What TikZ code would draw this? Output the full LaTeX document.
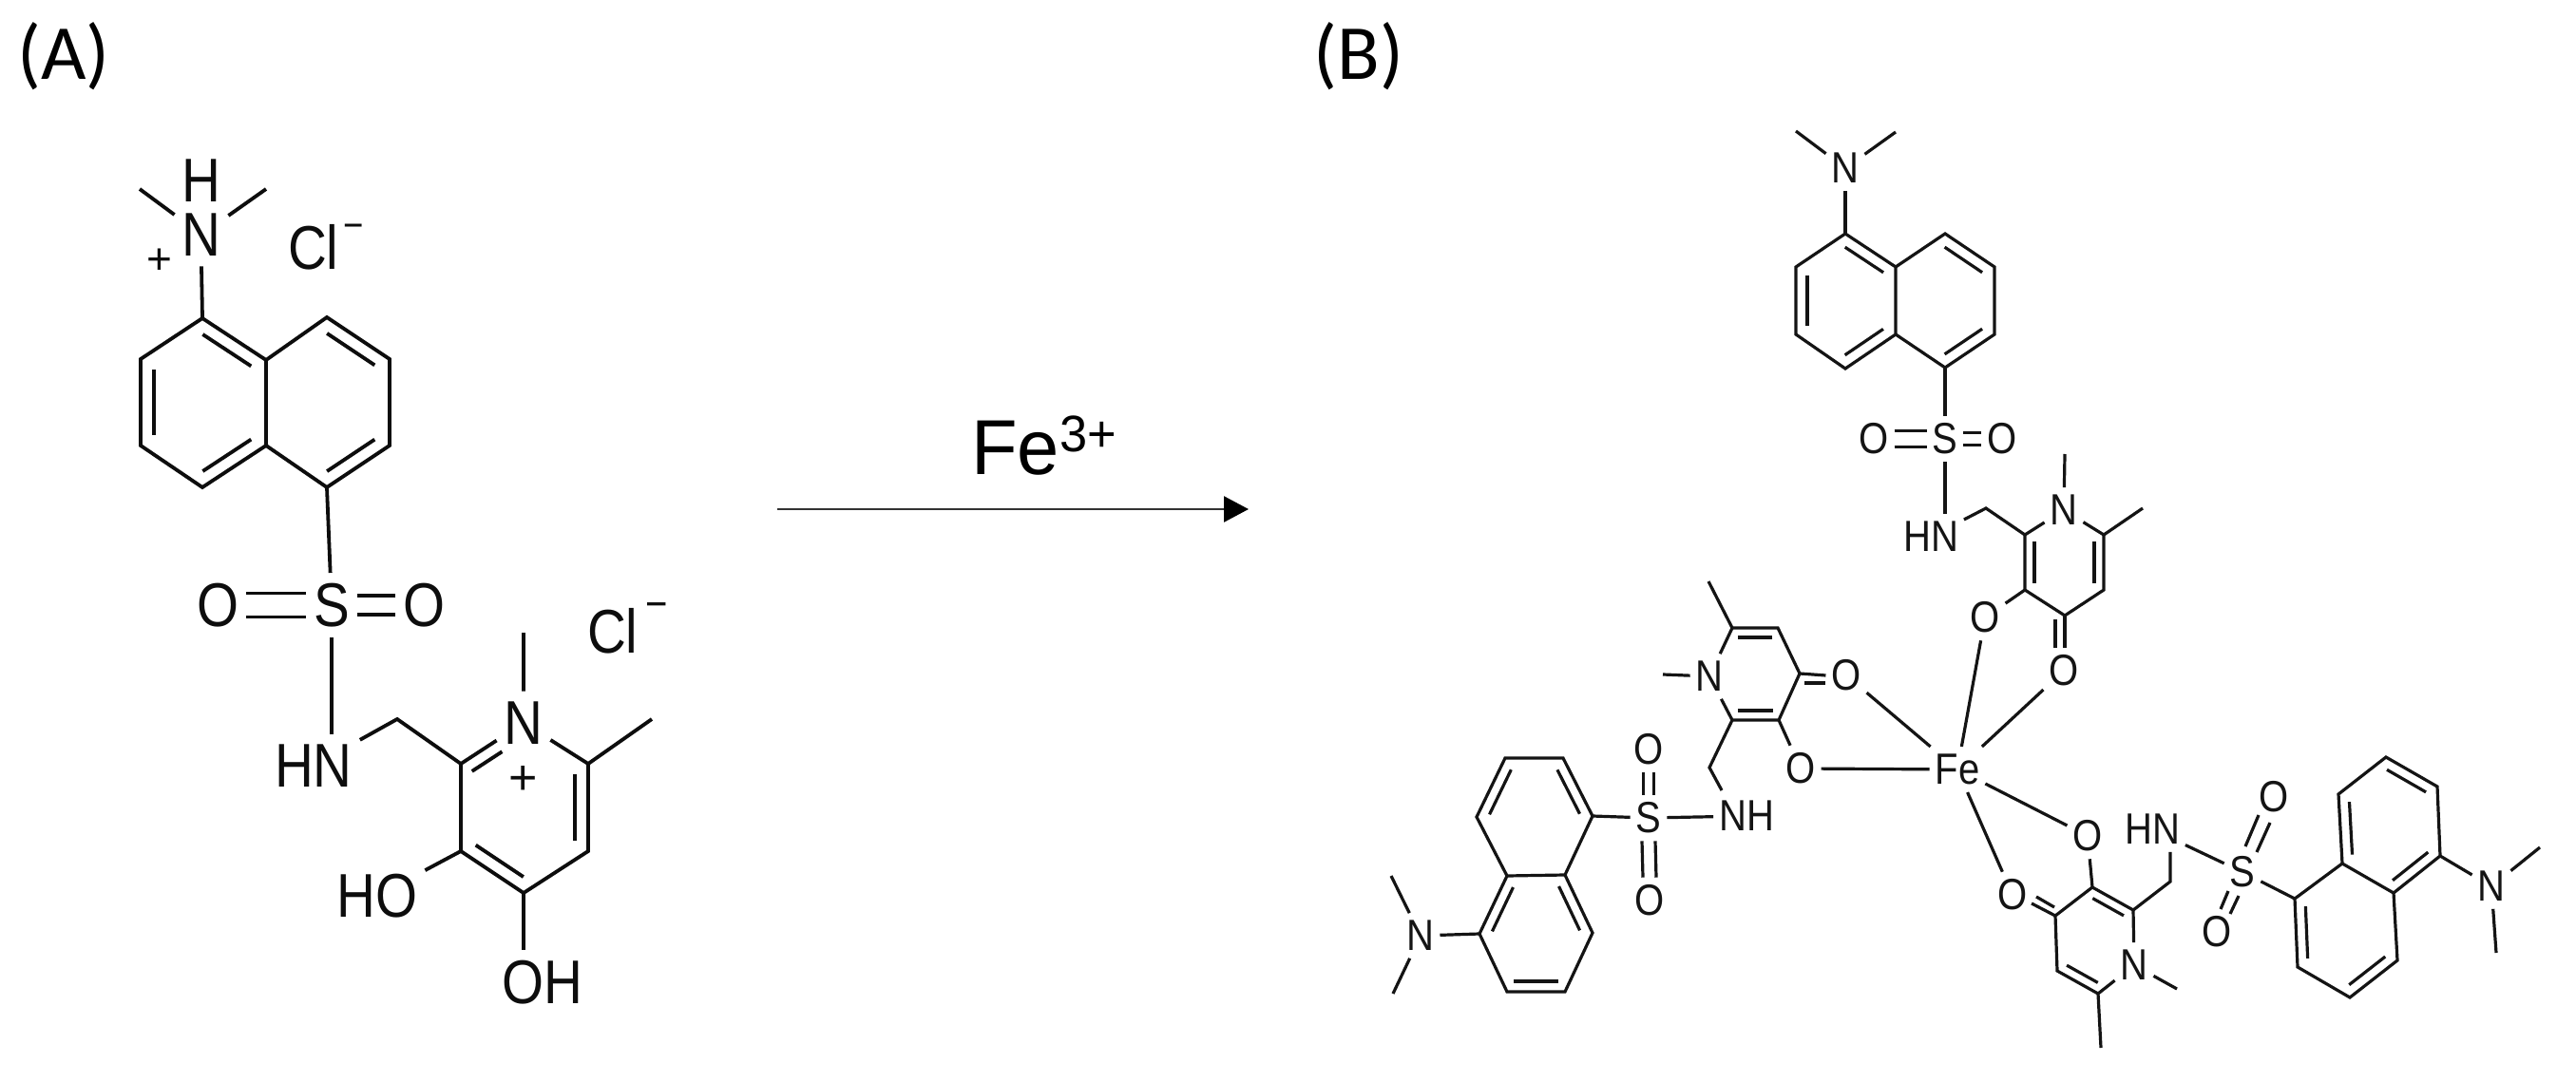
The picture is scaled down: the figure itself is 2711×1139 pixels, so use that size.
\documentclass[tikz,border=0pt]{standalone}
\usepackage{graphicx}
\usepackage{fontspec}
\setmainfont{Liberation Sans}
\newfontfamily\labelfont{Carlito}
\usetikzlibrary{calc,arrows.meta}
\newcommand\tL[1]{\scalebox{.87}[1]{\fontsize{65}{70}\selectfont #1}}
\newcommand\tR[1]{\scalebox{.87}[1]{\fontsize{46}{50}\selectfont #1}}
\newcommand\dblf[5]{\draw ($(#1)!#3!(#2)!#5pt!90:(#2)$) -- ($(#2)!#4!(#1)!#5pt!-90:(#1)$);}
\newcommand\dbl[3]{\dblf{#1}{#2}{.12}{.12}{#3}}
\tikzset{
  atomL/.style={inner xsep=8pt,inner ysep=11pt,outer sep=0pt},
  atomR/.style={inner xsep=6pt,inner ysep=8pt,outer sep=0pt},
  bondL/.style={line width=3.8pt,black!95},
  bondR/.style={line width=3.2pt,black!92},
  plain/.style={inner sep=0pt,outer sep=0pt},
}
\begin{document}
\begin{tikzpicture}[x=1pt,y=-1pt]
\useasboundingbox (0,0) rectangle (2711,1139);
\fill[white] (0,0) rectangle (2711,1139);

% panel labels
\node[plain,anchor=base] (labA) at (67,84) {\labelfont\fontsize{82}{90}\selectfont (A)};
\node[plain,anchor=base] (labB) at (1430,84) {\labelfont\fontsize{82}{90}\selectfont (B)};

% reaction arrow
\coordinate (arS) at (818,536);
\coordinate (arE) at (1314,536);
\draw[line width=2.6pt,black!80,-{Triangle[length=26pt,width=27pt,fill=black,color=black]}] (arS) -- (arE);
\node[plain,anchor=base west] (fe3) at (1022,499) {\scalebox{.97}[1]{\fontsize{82}{90}\selectfont Fe\kern1pt\raisebox{24pt}{\fontsize{54}{60}\selectfont 3+}}};

%% ---------- molecule A ----------
\begin{scope}[bondL]
\coordinate (a1) at (213,335); \coordinate (a2) at (280,379); \coordinate (a3) at (280,469);
\coordinate (a4) at (213,513); \coordinate (a5) at (148,469); \coordinate (a6) at (148,378);
\coordinate (b1) at (344,334); \coordinate (b2) at (410,378); \coordinate (b3) at (410,469);
\coordinate (b4) at (344,513);
\coordinate (am1) at (147,199); \coordinate (am2) at (280,199);
\node[atomL,inner ysep=3pt] (aN) at (212,247) {\tL{N}};
\node[plain] (aH) at (212,190) {\tL{H}};
\node[plain] (aPl) at (168,275) {\fontsize{46}{50}\selectfont +};
\node[plain,anchor=base west] (aCl1) at (303,284) {\tL{Cl}\kern5pt\raisebox{32pt}{\scalebox{.87}[1]{\fontsize{42}{46}\selectfont −}}};
\draw (am1) -- (aN) -- (am2);
\draw ([yshift=-8pt]aN.south) -- (a1);
\draw (a1) -- (a2) -- (a3) -- (a4) -- (a5) -- (a6) -- cycle;
\draw (a2) -- (b1) -- (b2) -- (b3) -- (b4) -- (a3);
\dbl{a2}{a1}{14} \dbl{a6}{a5}{14} \dbl{a4}{a3}{14} \dbl{b2}{b1}{14} \dbl{b4}{b3}{14}
\node[atomL] (aS) at (349,637) {\tL{S}};
\node[atomL] (aOl) at (229,637) {\tL{O}};
\node[atomL] (aOr) at (446,637) {\tL{O}};
\draw (b4) -- (aS);
\draw ([yshift=12.5pt]aOl.east) -- ([yshift=12.5pt]aS.west);
\draw ([yshift=-12.5pt]aOl.east) -- ([yshift=-12.5pt]aS.west);
\draw ([yshift=10pt]aS.east) -- ([yshift=10pt]aOr.west);
\draw ([yshift=-10pt]aS.east) -- ([yshift=-10pt]aOr.west);
\node[atomL] (aHN) at (330,806) {\tL{HN}};
\draw (aS.south) -- (aS.south |- aHN.north);
\coordinate (aCH) at (418,757); \coordinate (c2) at (485,804); \coordinate (c3) at (485,896);
\coordinate (c4) at (551,940); \coordinate (c5) at (619,896); \coordinate (c6) at (619,804);
\coordinate (cm1) at (551,666); \coordinate (cm2) at (686,757);
\node[atomL] (cN) at (551,761) {\tL{N}};
\node[plain] (cPl) at (551,821) {\fontsize{52}{56}\selectfont +};
\node[atomL] (cHO) at (397,943) {\tL{HO}};
\node[atomL] (cOH) at (571,1034) {\tL{OH}};
\node[plain,anchor=base west] (aCl2) at (618,687) {\tL{Cl}\kern8pt\raisebox{36pt}{\scalebox{.87}[1]{\fontsize{46}{50}\selectfont −}}};
\draw (aHN) -- (aCH) -- (c2) -- (cN);
\draw (cm1) -- (cN) -- (c6) -- (cm2);
\draw (c6) -- (c5) -- (c4) -- (c3) -- (c2);
\draw (c3) -- (cHO);
\draw (c4) -- (c4 |- cOH.north);
\dblf{cN}{c2}{.45}{.07}{13} \dbl{c5}{c6}{14} \dbl{c3}{c4}{14}
\end{scope}

%% ---------- molecule B ----------
\begin{scope}[bondR]
\node[atomR] (Fe) at (2060,810) {\tR{Fe}};

% top ligand
\coordinate (t1) at (1942,246); \coordinate (t2) at (1995,281); \coordinate (t3) at (1995,352);
\coordinate (t4) at (1942,388); \coordinate (t5) at (1890,352); \coordinate (t6) at (1890,281);
\coordinate (u1) at (2047,246); \coordinate (u2) at (2099,281); \coordinate (u3) at (2099,352);
\coordinate (u4) at (2047,387);
\coordinate (tm1) at (1890,138); \coordinate (tm2) at (1995,139);
\node[atomR] (tN) at (1942,177) {\tR{N}};
\draw (tm1) -- (tN) -- (tm2);
\draw (tN) -- (t1);
\draw (t1) -- (t2) -- (t3) -- (t4) -- (t5) -- (t6) -- cycle;
\draw (t2) -- (u1) -- (u2) -- (u3) -- (u4) -- (t3);
\dbl{t2}{t1}{12} \dbl{t6}{t5}{12} \dbl{t4}{t3}{12} \dbl{u2}{u1}{12} \dbl{u4}{u3}{12}
\node[atomR] (tS) at (2047,462) {\tR{S}};
\node[atomR] (tOl) at (1972,462) {\tR{O}};
\node[atomR] (tOr) at (2107,462) {\tR{O}};
\draw (u4) -- (tS);
\draw ([yshift=8.5pt]tOl.east) -- ([yshift=8.5pt]tS.west);
\draw ([yshift=-8.5pt]tOl.east) -- ([yshift=-8.5pt]tS.west);
\draw ([yshift=6.5pt]tS.east) -- ([yshift=6.5pt]tOr.west);
\draw ([yshift=-6.5pt]tS.east) -- ([yshift=-6.5pt]tOr.west);
\node[atomR] (tHN) at (2032,565) {\tR{HN}};
\draw (tS.south) -- (tS.south |- tHN.north);
\coordinate (tCH) at (2090,535); \coordinate (p2) at (2131,563); \coordinate (p3) at (2131,621);
\coordinate (p4) at (2173,648); \coordinate (p5) at (2214,621); \coordinate (p6) at (2214,563);
\coordinate (pm1) at (2173,478); \coordinate (pm2) at (2255,535);
\node[atomR] (pN) at (2172,537) {\tR{N}};
\node[atomR] (pO1) at (2089,650) {\tR{O}};
\node[atomR] (pO2) at (2172,706) {\tR{O}};
\draw (tHN) -- (tCH) -- (p2) -- (pN);
\draw (pm1) -- (pN) -- (p6) -- (pm2);
\draw (p6) -- (p5) -- (p4) -- (p3) -- (p2);
\dbl{p2}{p3}{10} \dbl{p5}{p6}{10}
\draw (p3) -- (pO1);
\draw (p4) -- (p4 |- pO2.north);
\draw ([xshift=-10pt,yshift=-4pt]p4) -- ([xshift=-9pt]pO2.north);
\draw (pO1) -- (Fe);
\draw (pO2) -- (Fe);

% left ligand
\coordinate (q6) at (1823,661); \coordinate (q5) at (1871,661); \coordinate (q4) at (1894,709);
\coordinate (q3) at (1872,758); \coordinate (q2) at (1823,758); \coordinate (qCH) at (1799,808);
\coordinate (qm1) at (1798,612); \coordinate (qm2) at (1750,710);
\node[atomR] (qN) at (1799,712) {\tR{N}};
\node[atomR] (qO1) at (1895,809) {\tR{O}};
\node[atomR] (qO2) at (1943,711) {\tR{O}};
\node[atomR] (qNH) at (1838,859) {\tR{NH}};
\draw (qm2) -- (qN) -- (q6) -- (qm1);
\draw (q6) -- (q5) -- (q4) -- (q3) -- (q2) -- (qN);
\dbl{q5}{q6}{10} \dbl{q2}{q3}{10}
\draw (q3) -- (qO1);
\draw (q4) -- (qO2.west);
\draw ([shift={(5,10)}]q4) -- ([yshift=-8pt]qO2.west);
\draw (qO1) -- (Fe);
\draw (qO2) -- (Fe);
\draw (q2) -- (qCH) -- ([shift={(-26,-27)}]qNH.center);
\node[atomR] (qS) at (1735,861) {\tR{S}};
\node[atomR] (qOu) at (1735,789) {\tR{O}};
\node[atomR] (qOd) at (1736,948) {\tR{O}};
\draw (qS) -- (qNH);
\draw ([xshift=-5.5pt]qOu.south) -- ([xshift=-5.5pt]qS.north);
\draw ([xshift=5.5pt]qOu.south) -- ([xshift=5.5pt]qS.north);
\draw ([xshift=-7pt]qS.south) -- ([xshift=-7pt]qOd.north);
\draw ([xshift=7pt]qS.south) -- ([xshift=7pt]qOd.north);
\coordinate (r1) at (1676,859); \coordinate (r2) at (1645,798); \coordinate (r3) at (1584,798);
\coordinate (r4) at (1554,860); \coordinate (r5) at (1586,922); \coordinate (r6) at (1647,921);
\coordinate (s1) at (1676,982); \coordinate (s2) at (1647,1044); \coordinate (s3) at (1586,1044);
\coordinate (s4) at (1557,983);
\coordinate (rm1) at (1464,922); \coordinate (rm2) at (1466,1046);
\node[atomR] (rN) at (1495,985) {\tR{N}};
\draw (qS) -- (r1);
\draw (r1) -- (r2) -- (r3) -- (r4) -- (r5) -- (r6) -- cycle;
\draw (r5) -- (s4) -- (s3) -- (s2) -- (s1) -- (r6);
\dbl{r1}{r2}{11} \dbl{r3}{r4}{11} \dbl{r5}{s4}{11} \dbl{s3}{s2}{11} \dbl{s1}{r6}{11}
\draw (s4) -- (rN);
\draw (rm1) -- (rN) -- (rm2);

% lower right ligand
\coordinate (v3) at (2202,934); \coordinate (v2) at (2245,958); \coordinate (v4) at (2163,964);
\coordinate (v5) at (2165,1022); \coordinate (v6) at (2208,1046); \coordinate (vCH) at (2284,928);
\coordinate (vm1) at (2211,1103); \coordinate (vm2) at (2291,1041);
\node[atomR] (vN) at (2246,1016) {\tR{N}};
\node[atomR] (vO1) at (2197,880) {\tR{O}};
\node[atomR] (vO2) at (2118,942) {\tR{O}};
\node[atomR] (vHN) at (2265,873) {\tR{HN}};
\node[atomR] (vS) at (2360,918) {\tR{S}};
\node[atomR] (vOu) at (2393,839) {\tR{O}};
\node[atomR] (vOd) at (2333,981) {\tR{O}};
\draw (Fe) -- (vO1);
\draw (Fe) -- (vO2);
\draw (vO1) -- (v3) -- (v2) -- (vN);
\draw (v3) -- (v4) -- (v5) -- (v6) -- (vN) -- (vm2);
\draw (v6) -- (vm1);
\dbl{v2}{v3}{10} \dbl{v5}{v6}{10}
\draw (v4) -- ([shift={(20,9)}]vO2.center);
\draw ([shift={(-1,-9)}]v4) -- ([shift={(25,2)}]vO2.center);
\draw (v2) -- (vCH) -- (vCH |- vHN.south);
\draw (vHN) -- (vS);
\draw ([shift={(3,-27)}]vS.center) -- ([shift={(-16,19)}]vOu.center);
\draw ([shift={(15,-21)}]vS.center) -- ([shift={(-4,27)}]vOu.center);
\draw ([shift={(-15,20)}]vS.center) -- ([shift={(4,-24)}]vOd.center);
\draw ([shift={(-4,25)}]vS.center) -- ([shift={(14,-19)}]vOd.center);
\coordinate (e1) at (2415,946); \coordinate (e2) at (2465,909); \coordinate (e3) at (2461,836);
\coordinate (e4) at (2511,797); \coordinate (e5) at (2565,828); \coordinate (e6) at (2568,901);
\coordinate (e7) at (2519,940); \coordinate (e8) at (2523,1011); \coordinate (e9) at (2473,1050);
\coordinate (e10) at (2418,1018);
\coordinate (em1) at (2673,892); \coordinate (em2) at (2627,1003);
\node[atomR] (eN) at (2622,933) {\tR{N}};
\draw (vS) -- (e1);
\draw (e2) -- (e3) -- (e4) -- (e5) -- (e6) -- (e7) -- cycle;
\draw (e2) -- (e1) -- (e10) -- (e9) -- (e8) -- (e7);
\dbl{e3}{e2}{11} \dbl{e5}{e4}{11} \dbl{e7}{e6}{11} \dbl{e1}{e10}{11} \dbl{e9}{e8}{11}
\draw (e6) -- (eN) -- (em1);
\draw (eN) -- (em2);
\end{scope}
\end{tikzpicture}
\end{document}
